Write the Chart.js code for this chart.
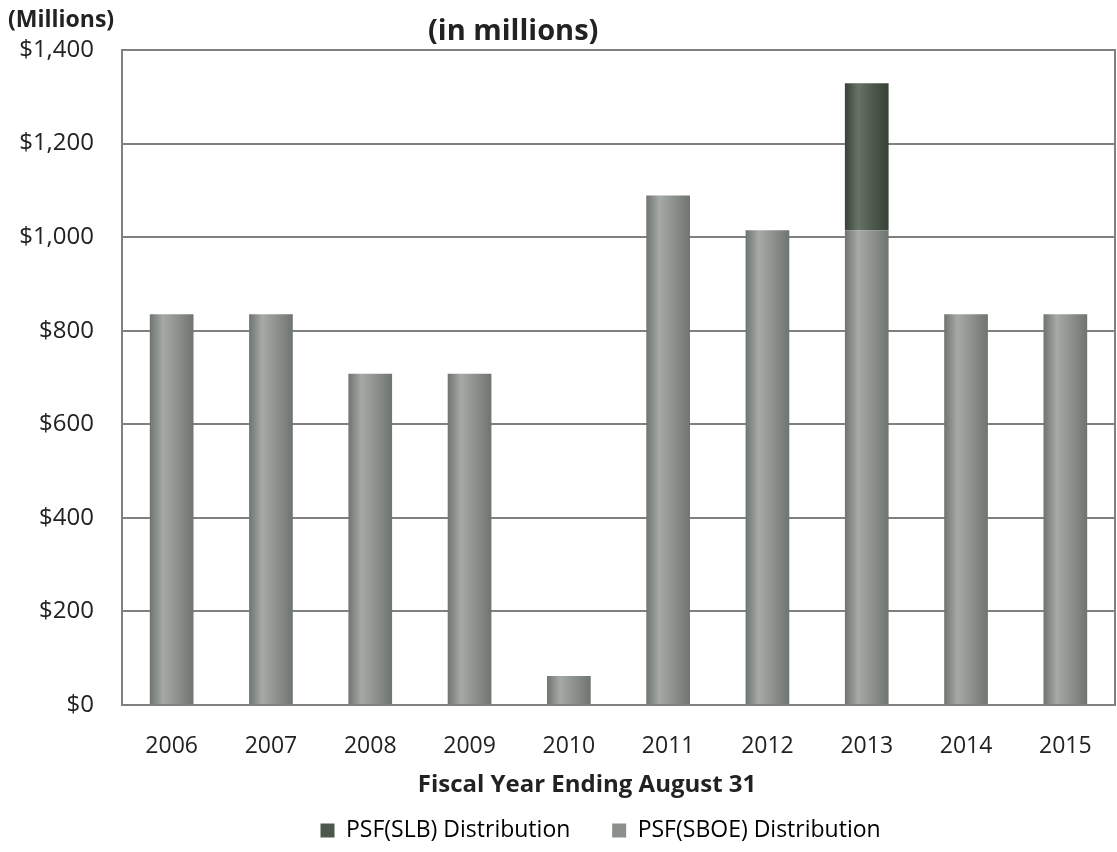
<!DOCTYPE html>
<html>
<head>
<meta charset="utf-8">
<script src="https://cdn.jsdelivr.net/npm/chart.js@4"></script>
<style>
  html, body { margin: 0; padding: 0; background: #fff; }
  #wrap { position: relative; width: 1117px; height: 852px; }
  .lbl { position: absolute; font-family: "Open Sans", sans-serif; font-weight: bold; color: #222; white-space: nowrap; }
  #unit { left: 8px; top: 2px; font-size: 23px; }
  #sub { left: 428px; top: 9px; font-size: 29px; }
  #xtitle { left: 587px; top: 766px; font-size: 24px; transform: translateX(-50%); }
</style>
</head>
<body>
<div id="wrap">
  <canvas id="psfChart" width="1117" height="852"></canvas>
  <div class="lbl" id="unit">(Millions)</div>
  <div class="lbl" id="sub">(in millions)</div>
  <div class="lbl" id="xtitle">Fiscal Year Ending August 31</div>
</div>
<script>
// ============================================
// DATA
// ============================================
const years = ['2006','2007','2008','2009','2010','2011','2012','2013','2014','2015'];
const sboeValues = [835, 835, 708, 708, 62, 1089, 1015, 1015, 835, 835];
const slbValues  = [null, null, null, null, null, null, null, 314, null, null];
const yTicks = [0, 200, 400, 600, 800, 1000, 1200, 1400];

const fontFamily = '"Open Sans", sans-serif';
const barShare = 0.44;   // bar width / category width

// cylinder-ish shading across each bar
function barShade(light, mid, dark) {
    return function(ctx) {
        const chart = ctx.chart;
        const xs = chart.scales && chart.scales.x;
        if (!chart.chartArea || !xs || ctx.dataIndex === undefined) return mid;
        const cx = xs.getPixelForValue(ctx.dataIndex);
        const half = (chart.chartArea.width / years.length) * barShare / 2;
        const g = chart.ctx.createLinearGradient(cx - half, 0, cx + half, 0);
        g.addColorStop(0, dark);
        g.addColorStop(0.3, light);
        g.addColorStop(0.65, mid);
        g.addColorStop(1, dark);
        return g;
    };
}

// frame round the plot area
const frame = {
    id: 'frame',
    afterDraw(chart) {
        const { ctx, chartArea: a } = chart;
        ctx.save();
        ctx.strokeStyle = '#808080';
        ctx.lineWidth = 2;
        ctx.strokeRect(a.left, a.top, a.right - a.left, a.bottom - a.top);
        ctx.restore();
    }
};

new Chart(document.getElementById('psfChart'), {
    type: 'bar',
    data: {
        labels: years,
        datasets: [
            {
                label: 'PSF(SBOE) Distribution',
                data: sboeValues,
                backgroundColor: barShade('#a6aaa6', '#8c908c', '#6f746f'),
                borderWidth: 0,
                barPercentage: 0.88,
                categoryPercentage: 0.5
            },
            {
                label: 'PSF(SLB) Distribution',
                data: slbValues,
                backgroundColor: barShade('#667366', '#4b584b', '#374237'),
                borderWidth: 0,
                barPercentage: 0.88,
                categoryPercentage: 0.5
            }
        ]
    },
    options: {
        responsive: false,
        animation: false,
        layout: { padding: { top: 50, right: 2, left: 0, bottom: 0 } },
        plugins: {
            title: { display: false },
            tooltip: { enabled: false },
            legend: {
                position: 'bottom',
                fullSize: false,
                reverse: true,
                labels: {
                    color: '#222',
                    font: { family: fontFamily, size: 23 },
                    boxWidth: 14,
                    boxHeight: 14,
                    padding: 6,
                    generateLabels(chart) {
                        return chart.data.datasets.map((ds, i) => ({
                            text: ds.label + '      ',
                            fillStyle: i === 0 ? '#8c908c' : '#4b584b',
                            strokeStyle: i === 0 ? '#8c908c' : '#4b584b',
                            lineWidth: 0,
                            datasetIndex: i
                        }));
                    }
                }
            }
        },
        scales: {
            x: {
                stacked: true,
                grid: { display: false },
                border: { display: false },
                afterFit(scale) { scale.height = 108; },
                ticks: { color: '#222', font: { family: fontFamily, size: 23 }, padding: 20 }
            },
            y: {
                stacked: true,
                min: 0,
                max: 1400,
                afterFit(scale) { scale.width = 122; },
                afterBuildTicks(scale) { scale.ticks = yTicks.map(v => ({ value: v })); },
                grid: { color: '#808080', lineWidth: 2, drawTicks: false },
                border: { display: false },
                ticks: {
                    color: '#222',
                    padding: 28,
                    font: { family: fontFamily, size: 24 },
                    callback: v => '$' + v.toLocaleString('en-US')
                }
            }
        }
    },
    plugins: [frame]
});
</script>
</body>
</html>
